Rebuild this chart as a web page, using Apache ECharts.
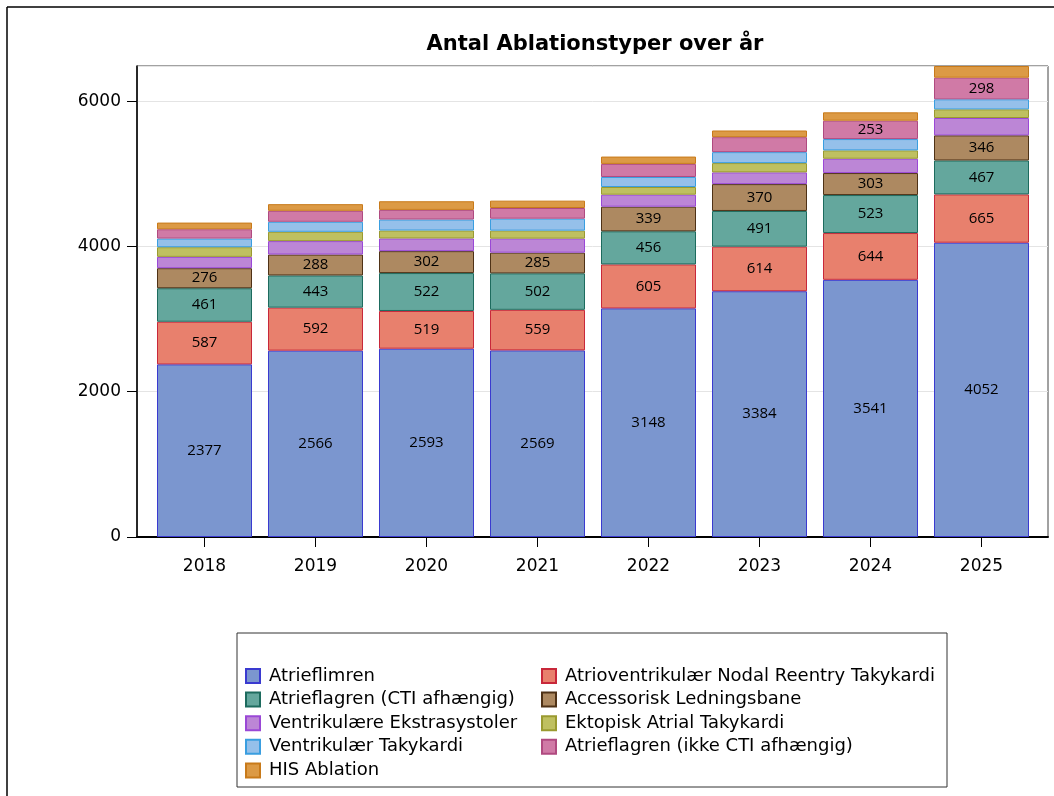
<!DOCTYPE html>
<html>
<head>
<meta charset="utf-8">
<script src="https://cdn.jsdelivr.net/npm/echarts@6/dist/echarts.min.js"></script>
<style>
html,body{margin:0;padding:0;background:#fff;}
#chart{width:1054px;height:796px;}
</style>
</head>
<body>
<div id="chart"></div>
<script>
// ---- Data ----
const years = ['2018','2019','2020','2021','2022','2023','2024','2025'];
const atrieflimren      = [2377,2566,2593,2569,3148,3384,3541,4052];
const avnrt             = [587, 592, 519, 559, 605, 614, 644, 665];
const atrieflagrenCTI   = [461, 443, 522, 502, 456, 491, 523, 467];
const accessorisk       = [276, 288, 302, 285, 339, 370, 303, 346];
const ventrEkstra       = [156, 185, 174, 193, 165, 161, 197, 239];
const ektopisk          = [133, 128, 110, 110, 106, 128, 115, 119];
const ventrTaky         = [119, 138, 151, 165, 138, 151, 156, 138];
const atrieflagrenIkke  = [128, 151, 133, 147, 180, 206, 253, 298];
const hisAblation       = [92,  92,  119, 101, 101, 92,  115, 161];
const yTicks = [0, 2000, 4000, 6000];

const seriesDefs = [
  {name:'Atrieflimren', data:atrieflimren, fill:'#7b96cf', line:'#3a3ad0'},
  {name:'Atrioventrikulær Nodal Reentry Takykardi', data:avnrt, fill:'#e8806d', line:'#c8283a'},
  {name:'Atrieflagren (CTI afhængig)', data:atrieflagrenCTI, fill:'#64a79d', line:'#1d6b5e'},
  {name:'Accessorisk Ledningsbane', data:accessorisk, fill:'#ad8961', line:'#4f3216'},
  {name:'Ventrikulære Ekstrasystoler', data:ventrEkstra, fill:'#bc86d6', line:'#9a48d6'},
  {name:'Ektopisk Atrial Takykardi', data:ektopisk, fill:'#bfc060', line:'#9a9a30'},
  {name:'Ventrikulær Takykardi', data:ventrTaky, fill:'#95c0ea', line:'#3a9ee0'},
  {name:'Atrieflagren (ikke CTI afhængig)', data:atrieflagrenIkke, fill:'#d07aa6', line:'#b04a80'},
  {name:'HIS Ablation', data:hisAblation, fill:'#dc9a45', line:'#c87a1a'}
];

const totals = years.map((_, i) => seriesDefs.reduce((s, d) => s + d.data[i], 0));
const yMax = Math.max(...totals);

const chart = echarts.init(document.getElementById('chart'), null, {renderer:'canvas'});

const series = seriesDefs.map(d => ({
  name: d.name,
  type: 'bar',
  stack: 'total',
  xAxisIndex: 1,
  yAxisIndex: 1,
  barWidth: 95,
  data: d.data,
  itemStyle: {color: d.fill, borderColor: d.line, borderWidth: 1},
  emphasis: {disabled: true},
  label: {
    show: true,
    position: 'inside',
    color: '#000',
    fontFamily: 'Open Sans',
    fontSize: 15,
    formatter: p => (p.value >= 250 ? String(p.value) : '')
  }
}));

const names = seriesDefs.map(d => d.name);
const legendCommon = {
  orient: 'vertical',
  icon: 'rect',
  itemWidth: 14,
  itemHeight: 14,
  itemGap: 5.6,
  padding: 0,
  height: 140,
  selectedMode: false,
  textStyle: {fontFamily: 'DejaVu Sans', fontSize: 18, lineHeight: 18, color: '#000', padding: [0, 0, 0, 4]},
  top: 667
};

const option = {
  animation: false,
  backgroundColor: '#fff',
  title: {
    text: 'Antal Ablationstyper over år',
    left: 590,
    textAlign: 'center',
    top: 29,
    textStyle: {fontFamily: 'DejaVu Sans', fontWeight: 'bold', fontSize: 21, color: '#000'}
  },
  legend: [
    Object.assign({}, legendCommon, {left: 245, data: names.filter((_, i) => i % 2 === 0)}),
    Object.assign({}, legendCommon, {left: 541, data: names.filter((_, i) => i % 2 === 1)})
  ],
  grid: [
    {left: 137, right: 6, top: 66, bottom: 259, show: true, borderColor: '#444', borderWidth: 1, backgroundColor: 'transparent'},
    {left: 149, right: 17, top: 66, bottom: 259}
  ],
  xAxis: [
    {type: 'category', gridIndex: 0, data: years,
     axisLine: {show: true, lineStyle: {color: '#000', width: 2}},
     axisTick: {show: false}, axisLabel: {show: false}, splitLine: {show: false}},
    {type: 'category', gridIndex: 1, data: years,
     axisLine: {show: false},
     axisTick: {show: true, alignWithLabel: true, length: 10, lineStyle: {color: '#000'}},
     axisLabel: {fontFamily: 'DejaVu Sans', fontSize: 17, color: '#000', margin: 21}}
  ],
  yAxis: [
    {type: 'value', gridIndex: 0, min: 0, max: yMax, interval: 2000,
     axisLine: {show: true, lineStyle: {color: '#000', width: 1.5}},
     axisTick: {show: true, length: 10, lineStyle: {color: '#000'}},
     axisLabel: {fontFamily: 'DejaVu Sans', fontSize: 17, color: '#000', margin: 16, showMaxLabel: false,
                 formatter: v => (yTicks.indexOf(v) >= 0 ? String(v) : '')},
     splitLine: {show: true, lineStyle: {color: '#e4e4e4', width: 1}}},
    {type: 'value', gridIndex: 1, min: 0, max: yMax, show: false, splitLine: {show: false}}
  ],
  graphic: [
    {type: 'line', shape: {x1: 7, y1: 7, x2: 1054, y2: 7}, style: {stroke: '#000', lineWidth: 1.5}, silent: true},
    {type: 'line', shape: {x1: 7, y1: 7, x2: 7, y2: 796}, style: {stroke: '#000', lineWidth: 1.5}, silent: true},
    {type: 'rect', shape: {x: 237, y: 633, width: 710, height: 154}, style: {fill: 'none', stroke: '#333', lineWidth: 1}, silent: true}
  ],
  series: series
};

chart.setOption(option);
</script>
</body>
</html>
